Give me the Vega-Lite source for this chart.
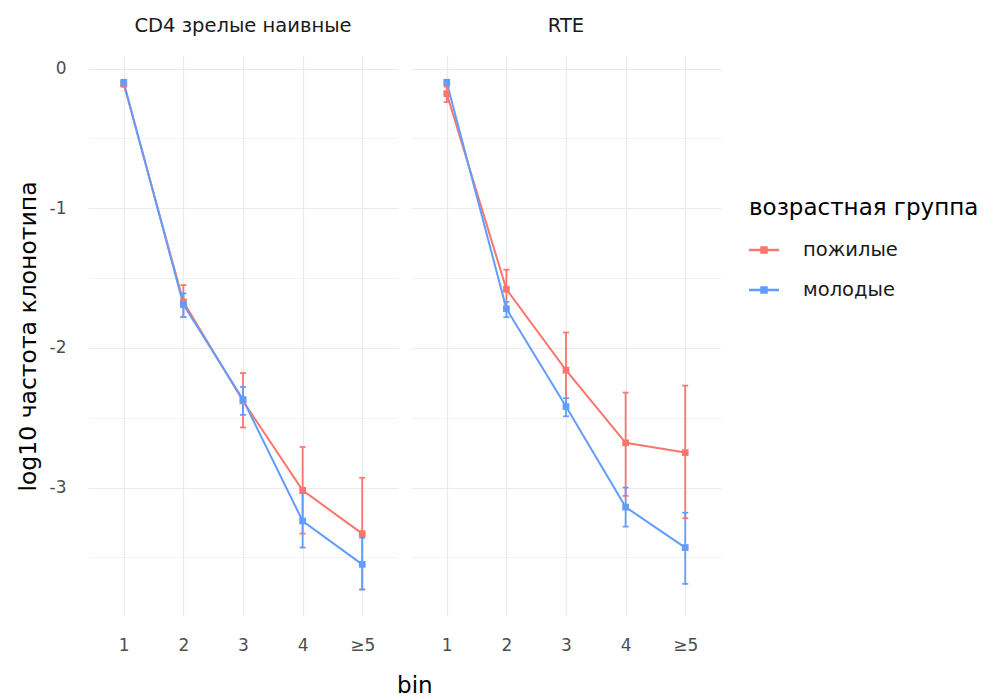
{
  "$schema": "https://vega.github.io/schema/vega-lite/v6.json",
  "padding": {"left": 16, "top": 15, "right": 5, "bottom": 0},
  "background": "white",
  "title": {"text": "bin", "orient": "bottom", "anchor": "start", "dx": 381, "fontSize": 23, "fontWeight": "normal", "color": "#000000", "offset": 22},
  "config": {
    "font": "DejaVu Sans",
    "view": {"stroke": null},
    "axis": {"domain": false, "ticks": false, "gridColor": "#ebebeb", "labelColor": "#4d4d4d", "labelFontSize": 17, "titleFontWeight": "normal", "titleColor": "#000000", "titleFontSize": 23.5}
  },
  "data": {"values": [
    {"panel": "CD4 зрелые наивные", "bin": "1", "group": "пожилые", "mean": -0.11, "lo": -0.13, "hi": -0.09},
    {"panel": "CD4 зрелые наивные", "bin": "2", "group": "пожилые", "mean": -1.67, "lo": -1.78, "hi": -1.55},
    {"panel": "CD4 зрелые наивные", "bin": "3", "group": "пожилые", "mean": -2.38, "lo": -2.57, "hi": -2.18},
    {"panel": "CD4 зрелые наивные", "bin": "4", "group": "пожилые", "mean": -3.02, "lo": -3.33, "hi": -2.71},
    {"panel": "CD4 зрелые наивные", "bin": "≥5", "group": "пожилые", "mean": -3.33, "lo": -3.73, "hi": -2.93},
    {"panel": "CD4 зрелые наивные", "bin": "1", "group": "молодые", "mean": -0.10, "lo": -0.12, "hi": -0.08},
    {"panel": "CD4 зрелые наивные", "bin": "2", "group": "молодые", "mean": -1.69, "lo": -1.78, "hi": -1.61},
    {"panel": "CD4 зрелые наивные", "bin": "3", "group": "молодые", "mean": -2.37, "lo": -2.48, "hi": -2.28},
    {"panel": "CD4 зрелые наивные", "bin": "4", "group": "молодые", "mean": -3.24, "lo": -3.43, "hi": -3.04},
    {"panel": "CD4 зрелые наивные", "bin": "≥5", "group": "молодые", "mean": -3.55, "lo": -3.73, "hi": -3.36},
    {"panel": "RTE", "bin": "1", "group": "пожилые", "mean": -0.18, "lo": -0.24, "hi": -0.13},
    {"panel": "RTE", "bin": "2", "group": "пожилые", "mean": -1.58, "lo": -1.72, "hi": -1.44},
    {"panel": "RTE", "bin": "3", "group": "пожилые", "mean": -2.16, "lo": -2.43, "hi": -1.89},
    {"panel": "RTE", "bin": "4", "group": "пожилые", "mean": -2.68, "lo": -3.06, "hi": -2.32},
    {"panel": "RTE", "bin": "≥5", "group": "пожилые", "mean": -2.75, "lo": -3.22, "hi": -2.27},
    {"panel": "RTE", "bin": "1", "group": "молодые", "mean": -0.10, "lo": -0.12, "hi": -0.08},
    {"panel": "RTE", "bin": "2", "group": "молодые", "mean": -1.72, "lo": -1.78, "hi": -1.67},
    {"panel": "RTE", "bin": "3", "group": "молодые", "mean": -2.42, "lo": -2.49, "hi": -2.36},
    {"panel": "RTE", "bin": "4", "group": "молодые", "mean": -3.14, "lo": -3.28, "hi": -3.00},
    {"panel": "RTE", "bin": "≥5", "group": "молодые", "mean": -3.43, "lo": -3.69, "hi": -3.18}
  ]},
  "facet": {"column": {"field": "panel", "type": "nominal", "sort": ["CD4 зрелые наивные", "RTE"],
    "header": {"title": null, "labelFontSize": 19.5, "labelColor": "#1a1a1a", "labelPadding": 20}}},
  "spacing": 13,
  "spec": {
    "width": 310,
    "height": 560,
    "encoding": {
      "x": {"field": "bin", "type": "ordinal", "sort": ["1", "2", "3", "4", "≥5"],
        "scale": {"type": "point", "padding": 0.6},
        "axis": {"title": null, "grid": true, "gridWidth": 1.2, "labelPadding": 21, "labelAngle": 0}},
      "color": {"field": "group", "type": "nominal",
        "scale": {"domain": ["пожилые", "молодые"], "range": ["#F8766D", "#619CFF"]},
        "legend": {"title": "возрастная группа", "orient": "none", "legendX": 661, "legendY": 141,
          "titleFontSize": 23, "titleFontWeight": "normal", "titleColor": "#000000", "titlePadding": 15, "titleLimit": 400,
          "labelFontSize": 19.5, "labelColor": "#1a1a1a", "labelOffset": 24, "rowPadding": 15,
          "symbolType": "M-1,-0.08H1V0.08H-1Z M-0.25,-0.25H0.25V0.25H-0.25Z", "symbolSize": 900, "symbolStrokeWidth": 0, "symbolOpacity": 1}}
    },
    "layer": [
      {"mark": {"type": "line", "strokeWidth": 2},
        "encoding": {"y": {"field": "mean", "type": "quantitative",
          "scale": {"domain": [-3.92, 0.09], "nice": false, "zero": false},
          "axis": {"title": "log10 частота клонотипа", "titlePadding": 9, "values": [-3.5, -3, -2.5, -2, -1.5, -1, -0.5, 0],
            "labelExpr": "datum.value % 1 == 0 ? '' + datum.value : ''", "labelPadding": 22,
            "gridWidth": {"condition": {"test": "datum.value % 1 != 0", "value": 0.6}, "value": 1.2}}}}},
      {"mark": {"type": "rule", "strokeWidth": 1.8},
        "encoding": {"y": {"field": "lo", "type": "quantitative"}, "y2": {"field": "hi"}}},
      {"mark": {"type": "tick", "size": 6, "thickness": 1.7, "opacity": 1},
        "encoding": {"y": {"field": "lo", "type": "quantitative"}}},
      {"mark": {"type": "tick", "size": 6, "thickness": 1.7, "opacity": 1},
        "encoding": {"y": {"field": "hi", "type": "quantitative"}}},
      {"mark": {"type": "point", "shape": "square", "filled": true, "size": 45, "opacity": 1},
        "encoding": {"y": {"field": "mean", "type": "quantitative"}}}
    ]
  }
}
